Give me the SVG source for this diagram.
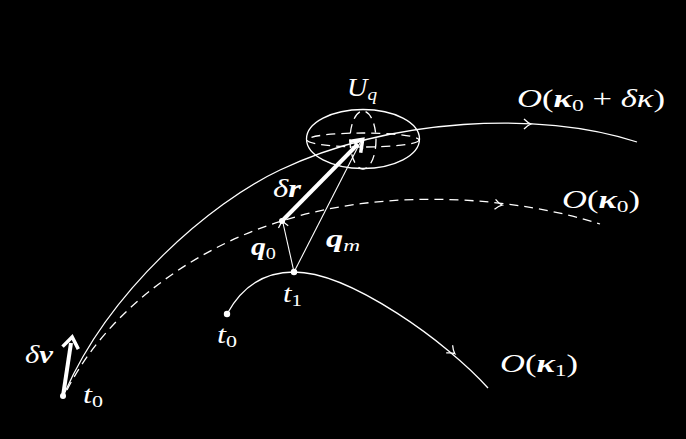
<svg xmlns="http://www.w3.org/2000/svg" width="686" height="439" viewBox="0 0 686 439">
<style>
.c{fill:none;stroke:#fff;stroke-width:1.3}
.d{fill:none;stroke:#fff;stroke-width:1.3;stroke-dasharray:9 6}
.t{fill:#fff;font-family:"Liberation Serif","DejaVu Serif",serif;font-style:italic;font-size:25px}
.b{font-weight:bold}
.s{font-size:17px;font-style:normal}
.si{font-size:17px}
.up{font-style:normal}
</style>
<defs>
<path id="chev" d="M-6,-5 Q-2,-1 1,0 Q-2,1 -6,5" fill="none" stroke="#fff" stroke-width="1.3"/>
<path id="bigchev" d="M-10,-8 L1,0 L-10,8" fill="none" stroke="#fff" stroke-width="3.5" stroke-linejoin="miter"/>
</defs>
<rect width="686" height="439" fill="#000"/>
<g id="connectors">
<path id="orbit-top" class="c" d="M65,392 C110,290 210,203 280,170 C390,118 540,110 637,142"/>
<use href="#chev" transform="translate(530,124)"/>
<path id="orbit-mid" class="d" d="M67,390 C110,305 202,245 282,221 C390,186 520,198 600,224"/>
<use href="#chev" transform="translate(501,205) rotate(6)"/>
<path id="orbit-low" class="c" d="M227,314 C238,294 258,272 294,272 C350,272 448,343 488,388"/>
<use href="#chev" transform="translate(454,353) rotate(40)"/>
<line x1="294" y1="272" x2="361" y2="141" stroke="#fff" stroke-width="1.1"/>
<use href="#chev" transform="translate(361,141) rotate(-63)"/>
<line x1="294" y1="272" x2="283" y2="223" stroke="#fff" stroke-width="1.1"/>
<use href="#chev" transform="translate(282,221) rotate(-103)"/>
</g>
<g id="Uq">
<ellipse cx="363" cy="139" rx="56.5" ry="29.5" class="c"/>
<ellipse cx="363" cy="140" rx="56" ry="7" class="d" stroke-dasharray="8 6"/>
<ellipse cx="363" cy="140" rx="13" ry="29" class="d" stroke-dasharray="8 6"/>
<text class="t" x="347" y="96" textLength="30" lengthAdjust="spacingAndGlyphs">U<tspan class="si" dy="4">q</tspan></text>
</g>
<g id="dr">
<line x1="282" y1="221" x2="358" y2="144" stroke="#fff" stroke-width="4"/>
<use href="#bigchev" transform="translate(362,140) rotate(-45.4)"/>
<circle cx="282" cy="221" r="3" fill="#fff"/>
<text class="t" x="273" y="197" textLength="28" lengthAdjust="spacingAndGlyphs">δ<tspan class="b">r</tspan></text>
</g>
<g id="dv">
<line x1="63" y1="396" x2="71" y2="343" stroke="#fff" stroke-width="4"/>
<use href="#bigchev" transform="translate(72,338) rotate(-81)"/>
<circle cx="63" cy="396" r="3" fill="#fff"/>
<text class="t" x="25" y="363" textLength="28" lengthAdjust="spacingAndGlyphs">δ<tspan class="b">v</tspan></text>
<text class="t" x="83" y="403" textLength="20" lengthAdjust="spacingAndGlyphs">t<tspan class="s" dy="4">0</tspan></text>
</g>
<g id="t1">
<circle cx="294" cy="272" r="3.2" fill="#fff"/>
<text class="t" x="283" y="302" textLength="19" lengthAdjust="spacingAndGlyphs">t<tspan class="s" dy="4">1</tspan></text>
</g>
<g id="t0">
<circle cx="227" cy="314" r="3.2" fill="#fff"/>
<text class="t" x="217" y="343" textLength="20" lengthAdjust="spacingAndGlyphs">t<tspan class="s" dy="4">0</tspan></text>
</g>
<g id="q-labels">
<text class="t b" x="251" y="255" textLength="25" lengthAdjust="spacingAndGlyphs">q<tspan class="s" dy="4" font-weight="normal">0</tspan></text>
<text class="t b" x="326" y="247" textLength="34" lengthAdjust="spacingAndGlyphs">q<tspan class="si" dy="4" font-weight="normal">m</tspan></text>
</g>
<g id="orbit-labels">
<text class="t" x="517" y="107" textLength="148" lengthAdjust="spacingAndGlyphs">O<tspan class="up">(</tspan><tspan class="b">κ</tspan><tspan class="s" dy="4">0</tspan><tspan class="up" dy="-4"> + </tspan>δκ<tspan class="up">)</tspan></text>
<text class="t" x="562" y="208" textLength="78" lengthAdjust="spacingAndGlyphs">O<tspan class="up">(</tspan><tspan class="b">κ</tspan><tspan class="s" dy="4">0</tspan><tspan class="up" dy="-4">)</tspan></text>
<text class="t" x="500" y="372" textLength="78" lengthAdjust="spacingAndGlyphs">O<tspan class="up">(</tspan><tspan class="b">κ</tspan><tspan class="s" dy="4">1</tspan><tspan class="up" dy="-4">)</tspan></text>
</g>
</svg>
